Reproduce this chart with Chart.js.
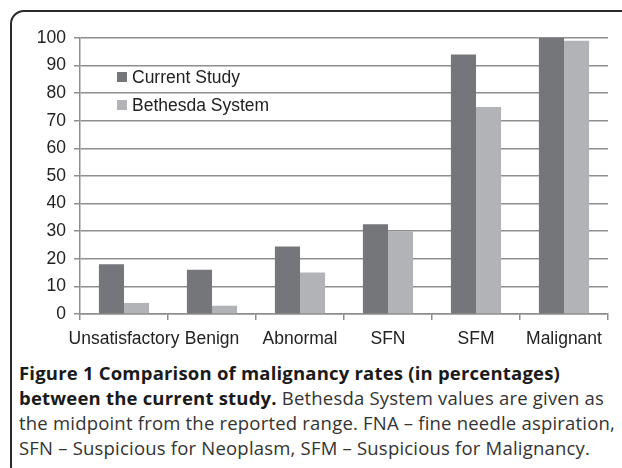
<!DOCTYPE html>
<html>
<head>
<meta charset="utf-8">
<script src="https://cdn.jsdelivr.net/npm/chart.js@4.4.1/dist/chart.umd.min.js"></script>
<style>
  body { margin: 0; background: #fff; width: 622px; height: 468px; overflow: hidden; position: relative; }
  #frame { position: absolute; left: 10px; top: 10px; width: 640px; height: 470px; border: 2px solid #2a2a2a; border-radius: 14px; box-sizing: border-box; }
  #chartBox { position: absolute; left: 0; top: 0; width: 622px; height: 356px; }
  #legend { position: absolute; left: 117px; top: 63px; font-family: "Liberation Sans", Arial, sans-serif; font-size: 17.5px; color: #222; }
  #legend div { height: 28px; display: flex; align-items: center; }
  #legend span.sw { display: inline-block; width: 10px; height: 10px; margin-right: 5px; }
  #caption { position: absolute; left: 19px; top: 360px; font-family: "Open Sans", sans-serif; font-size: 18.5px; letter-spacing: 0.2px; line-height: 25px; color: #333; white-space: nowrap; }
  #caption b { color: #1a1a1a; }
</style>
</head>
<body>
<div id="frame"></div>
<div id="chartBox"><canvas id="malignancyChart"></canvas></div>
<div id="legend"></div>
<div id="caption">
  <b>Figure 1 Comparison of malignancy rates (in percentages)</b><br>
  <b>between the current study.</b> Bethesda System values are given as<br>
  the midpoint from the reported range. FNA – fine needle aspiration,<br>
  SFN – Suspicious for Neoplasm, SFM – Suspicious for Malignancy.
</div>
<script>
var categories = ["Unsatisfactory", "Benign", "Abnormal", "SFN", "SFM", "Malignant"];
var currentStudy = [18, 16, 24.5, 32.5, 94, 100];
var bethesdaSystem = [4, 3, 15, 30, 75, 99];
var yTicks = [0, 10, 20, 30, 40, 50, 60, 70, 80, 90, 100];

var gridColor = "#8e8e8e";
var tickFont = { family: "'Liberation Sans', Arial, sans-serif", size: 17.5 };

var malignancyCtx = document.getElementById("malignancyChart").getContext('2d');
var malignancyChart = new Chart(malignancyCtx, {
    type: 'bar',
    data: {
        labels: categories,
        datasets: [{
            label: "Current Study",
            data: currentStudy,
            backgroundColor: "#75767a",
            categoryPercentage: 0.57,
            barPercentage: 1.0
        }, {
            label: "Bethesda System",
            data: bethesdaSystem,
            backgroundColor: "#b2b3b7",
            categoryPercentage: 0.57,
            barPercentage: 1.0
        }]
    },
    options: {
        responsive: true,
        maintainAspectRatio: false,
        animation: false,
        layout: { padding: { top: 38, right: 14, left: 0, bottom: 0 } },
        plugins: {
            legend: { display: false },
            tooltip: { enabled: false }
        },
        scales: {
            x: {
                grid: { drawOnChartArea: false, color: gridColor, lineWidth: 1.5, tickLength: 6 },
                border: { color: gridColor, width: 1.5 },
                ticks: { color: "#222", font: tickFont, padding: 9, maxRotation: 0, autoSkip: false },
                afterFit: function (scale) { scale.height = 42; }
            },
            y: {
                min: 0,
                max: 100,
                afterBuildTicks: function (scale) {
                    scale.ticks = yTicks.map(function (v) { return { value: v }; });
                },
                grid: { color: gridColor, lineWidth: 1.5, tickLength: 6 },
                border: { color: gridColor, width: 1.5 },
                ticks: { color: "#222", font: tickFont, padding: 8 },
                afterFit: function (scale) { scale.width = 80; }
            }
        }
    }
});

// legend inside the plot, built from the datasets
var legendBox = document.getElementById("legend");
malignancyChart.data.datasets.forEach(function (ds) {
    var row = document.createElement("div");
    row.innerHTML = '<span class="sw" style="background:' + ds.backgroundColor + '"></span>' + ds.label;
    legendBox.appendChild(row);
});
</script>
</body>
</html>
